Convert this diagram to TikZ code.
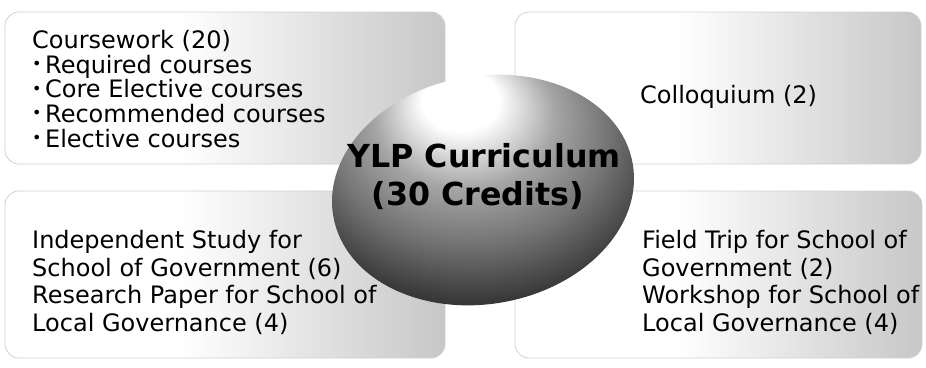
\documentclass[tikz,border=0pt]{standalone}
\usepackage{fontspec}
\setmainfont{DejaVu Sans}
\usetikzlibrary{shapes.geometric}
\pgfdeclareradialshading{sphshade}{\pgfpoint{-4bp}{20bp}}{color(0bp)=(white); color(6bp)=(white); color(14bp)=(black!35); color(22bp)=(black!55); color(30bp)=(black!78); color(38bp)=(black!90); color(50bp)=(black!92)}
\pgfdeclarehorizontalshading{boxshade}{100bp}{color(0bp)=(white); color(25bp)=(white); color(45bp)=(white); color(75bp)=(black!22); color(100bp)=(black!22)}
\newcommand{\blt}{{\fontsize{16}{16}\selectfont\raisebox{3.2pt}{•}}\hspace{3.5pt}}
\begin{document}
\begin{tikzpicture}[x=1pt,y=-1pt,
  panel/.style={shade, shading=boxshade, draw=black!18, line width=0.8pt, rounded corners=14pt, inner sep=0pt},
  body/.style={font=\fontsize{24}{28}\selectfont, anchor=base west, inner sep=0pt},
  title/.style={font=\fontsize{31.7}{34}\selectfont\bfseries, anchor=base, inner sep=0pt}]
\useasboundingbox (0,0) rectangle (926,367);
% panels
\node[panel, minimum width=440, minimum height=152] (tlbox) at (225,88) {};
\node[panel, minimum width=406, minimum height=152] (trbox) at (718,88) {};
\node[panel, minimum width=440, minimum height=167] (blbox) at (225,274.5) {};
\node[panel, minimum width=407, minimum height=167] (brbox) at (718.5,274.5) {};
% sphere
\node[ellipse, shade, shading=sphshade, minimum width=304, minimum height=228, inner sep=0pt, rotate=10] (ball) at (483,190) {};
% top-left text
\node[body] (tl1) at (32,48) {Coursework (20)};
\node[body] (tl2) at (32,73) {\blt Required courses};
\node[body] (tl3) at (32,97.5) {\blt Core Elective courses};
\node[body] (tl4) at (32,122) {\blt Recommended courses};
\node[body] (tl5) at (32,147) {\blt Elective courses};
% top-right text
\node[body] (tr1) at (640,103.5) {Colloquium (2)};
% bottom-left text
\node[body] (bl1) at (32,248) {Independent Study for};
\node[body] (bl2) at (32,276) {School of Government (6)};
\node[body] (bl3) at (32,303) {Research Paper for School of};
\node[body] (bl4) at (32,331) {Local Governance (4)};
% bottom-right text
\node[body] (br1) at (642,248) {Field Trip for School of};
\node[body] (br2) at (642,276) {Government (2)};
\node[body] (br3) at (642,303) {Workshop for School of};
\node[body] (br4) at (642,331) {Local Governance (4)};
% title
\node[title] (t1) at (484,167.5) {YLP Curriculum};
\node[title] (t2) at (478,205.5) {(30 Credits)};
\end{tikzpicture}
\end{document}
